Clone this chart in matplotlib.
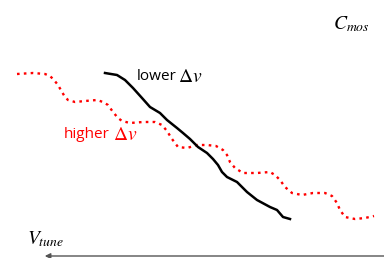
import matplotlib
matplotlib.use("Agg")
import matplotlib.pyplot as plt

plt.rcParams['mathtext.fontset'] = 'stix'

# curve samples (pixel-like units, y grows downward)
black_x = [105, 117, 125, 133, 142, 150, 160, 167, 177, 183, 190, 198, 207, 213, 218, 222, 227, 237, 247, 257, 270, 277, 283, 290]
black_y = [73, 75, 80, 88, 98, 107, 113, 120, 128, 133, 139, 147, 153, 159, 165, 172, 177, 182, 192, 200, 207, 210, 217, 219]

red_x = [17, 33, 45, 50, 54, 58, 62, 65, 68, 75, 85, 97, 103, 108, 113, 118, 122, 130, 143, 155, 162, 167, 172, 178, 187, 197, 207, 216, 223, 227, 230, 235, 243, 257, 270, 275, 280, 285, 292, 302, 313, 325, 332, 337, 340, 345, 355, 365, 374]
red_y = [74, 73, 74, 76, 80, 85, 92, 97, 100, 102, 101, 100, 102, 105, 112, 118, 121, 123, 122, 122, 125, 131, 139, 147, 148, 145, 145, 146, 150, 155, 162, 168, 173, 173, 172, 175, 180, 187, 193, 195, 193, 193, 196, 203, 210, 217, 219, 218, 216]

fig = plt.figure(figsize=(3.84, 2.58), dpi=100)
ax = fig.add_axes([0, 0, 1, 1])
ax.set_xlim(0, 384)
ax.set_ylim(258, 0)
ax.axis('off')

ax.plot(red_x, red_y, color='#ff0000', lw=1.7, linestyle=(0, (1.1, 1.8)), dash_capstyle='butt', solid_joinstyle='round')
ax.plot(black_x, black_y, color='black', lw=1.8, solid_joinstyle='round')

ax.text(137, 76, "lower", fontsize=11, family='Open Sans', color='black', va='center', ha='left')
ax.text(178, 76, r"$\Delta v$", fontsize=14, color='black', va='center', ha='left')
ax.text(64, 134, "higher", fontsize=11, family='Open Sans', color='#ff0000', va='center', ha='left')
ax.text(113, 134, r"$\Delta v$", fontsize=14, color='#ff0000', va='center', ha='left')
ax.text(333, 24, r"$C_{mos}$", fontsize=14, color='black', va='center', ha='left')
ax.text(27, 239, r"$V_{tune}$", fontsize=14, color='black', va='center', ha='left')

ax.annotate('', xy=(42, 256), xytext=(390, 256),
            arrowprops=dict(arrowstyle='-|>', color='#555555', lw=1.0, mutation_scale=8))

fig.savefig('out.png', dpi=100)
